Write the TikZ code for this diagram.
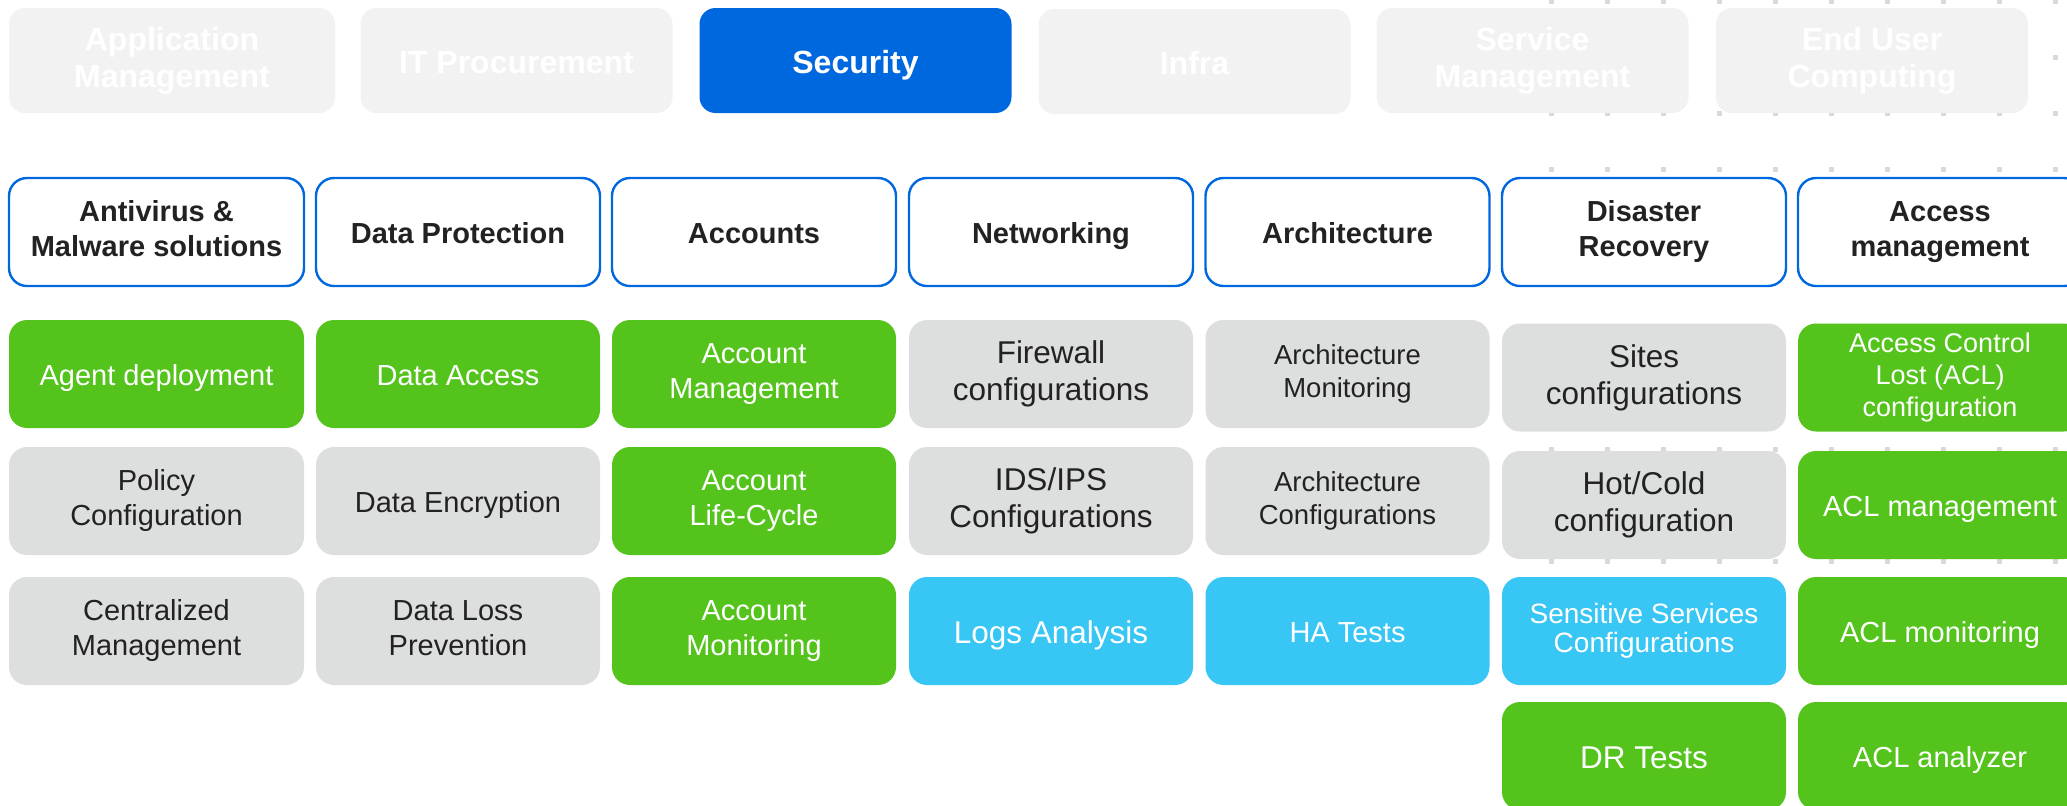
\documentclass[tikz,border=0pt]{standalone}
\usepackage{fontspec}
\setmainfont{Liberation Sans}
\usetikzlibrary{positioning}

\definecolor{secblue}{HTML}{0068DF}
\definecolor{leafgreen}{HTML}{54C41C}
\definecolor{skyblue}{HTML}{38C6F4}
\definecolor{boxgray}{HTML}{DDDEDE}
\definecolor{tabgray}{HTML}{F2F2F2}
\definecolor{dotgray}{HTML}{D9D9D9}
\definecolor{inkdark}{HTML}{222222}

\tikzset{
  % struts so the text sits like in the original slide
  slidetext/.style={execute at begin node={\rule{0pt}{1em}},
    execute at end node={\rule[-.21em]{0pt}{.21em}}},
  tab/.style={slidetext, rounded corners=8pt, fill=tabgray, text=white, align=center, inner sep=0pt,
    minimum width=156pt, minimum height=52.5pt, font=\fontsize{16}{18.5}\selectfont\bfseries},
  tabon/.style={tab, fill=secblue},
  head/.style={slidetext, draw=secblue, line width=1.2pt, fill=white, rounded corners=9pt, text=inkdark,
    align=center, inner sep=0pt, minimum width=142pt, minimum height=54pt,
    font=\fontsize{14.5}{17.5}\selectfont\bfseries},
  item/.style={slidetext, rounded corners=9pt, align=center, inner sep=0pt, minimum width=142pt,
    minimum height=54pt, font=\fontsize{14.5}{17.5}\selectfont},
  donebox/.style={item, fill=leafgreen, text=white},
  openbox/.style={item, fill=boxgray, text=inkdark},
  nextbox/.style={item, fill=skyblue, text=white},
  wide/.style={minimum width=147.5pt},
  bigtext/.style={font=\fontsize{15.75}{18.5}\selectfont},
  smalltext/.style={font=\fontsize{13.75}{16.5}\selectfont},
}

\begin{document}
\begin{tikzpicture}[x=0.5pt,y=-0.5pt]
  \useasboundingbox (0,0) rectangle (2067,805);
  \clip (0,0) rectangle (2067,805);

  % dotted grid behind the right side
  \foreach \i in {0,...,9}
    \foreach \j in {0,...,10}
      \fill[dotgray] (1548.5+56*\i,-1+56*\j) rectangle ++(5,5);

  % top tabs
  \node[tab,minimum width=163pt] (tabapp) at (172,60.5) {Application\\Management};
  \node[tab]   (tabit)    at (516.5,60.5)  {IT Procurement};
  \node[tabon] (tabsec)   at (855.5,60.5)  {Security};
  \node[tab]   (tabinfra) at (1194.5,61.5) {Infra};
  \node[tab]   (tabsvc)   at (1532.5,60.5) {Service\\Management};
  \node[tab]   (tabeuc)   at (1872,60.5)   {End User\\Computing};

  % column heads
  \node[head,wide] (hav)   at (156.5,232) {Antivirus \&\\Malware solutions};
  \node[head] (hdp)   at (458,232)    {Data Protection};
  \node[head] (hacc)  at (754,232)    {Accounts};
  \node[head] (hnet)  at (1051,232)   {Networking};
  \node[head] (harch) at (1347.5,232) {Architecture};
  \node[head] (hdr)   at (1644,232)   {Disaster\\Recovery};
  \node[head] (ham)   at (1940,232)   {Access\\management};

  % antivirus
  \node[donebox,wide] (av1) at (156.5,374) {Agent deployment};
  \node[openbox,wide] (av2) at (156.5,501) {Policy\\Configuration};
  \node[openbox,wide] (av3) at (156.5,631) {Centralized\\Management};

  % data protection
  \node[donebox] (dp1) at (458,374) {Data Access};
  \node[openbox] (dp2) at (458,501) {Data Encryption};
  \node[openbox] (dp3) at (458,631) {Data Loss\\Prevention};

  % accounts
  \node[donebox] (acc1) at (754,374) {Account\\Management};
  \node[donebox] (acc2) at (754,501) {Account\\Life-Cycle};
  \node[donebox] (acc3) at (754,631) {Account\\Monitoring};

  % networking
  \node[openbox,bigtext] (net1) at (1051,374) {Firewall\\configurations};
  \node[openbox,bigtext] (net2) at (1051,501) {IDS/IPS\\Configurations};
  \node[nextbox,bigtext] (net3) at (1051,631) {Logs Analysis};

  % architecture
  \node[openbox,smalltext] (arch1) at (1347.5,374) {Architecture\\Monitoring};
  \node[openbox,smalltext] (arch2) at (1347.5,501) {Architecture\\Configurations};
  \node[nextbox] (arch3) at (1347.5,631) {HA Tests};

  % disaster recovery
  \node[openbox,bigtext] (dr1) at (1644,377.5) {Sites\\configurations};
  \node[openbox,bigtext] (dr2) at (1644,505)   {Hot/Cold\\configuration};
  \node[nextbox,font=\fontsize{14}{14.5}\selectfont] (dr3) at (1644,631) {Sensitive Services\\Configurations};
  \node[donebox,bigtext] (dr4) at (1644,756)   {DR Tests};

  % access management
  \node[donebox,font=\fontsize{13.5}{16}\selectfont] (am1) at (1940,377.5) {Access Control\\Lost (ACL)\\configuration};
  \node[donebox] (am2) at (1940,505) {ACL management};
  \node[donebox] (am3) at (1940,631) {ACL monitoring};
  \node[donebox] (am4) at (1940,756) {ACL analyzer};
\end{tikzpicture}
\end{document}
